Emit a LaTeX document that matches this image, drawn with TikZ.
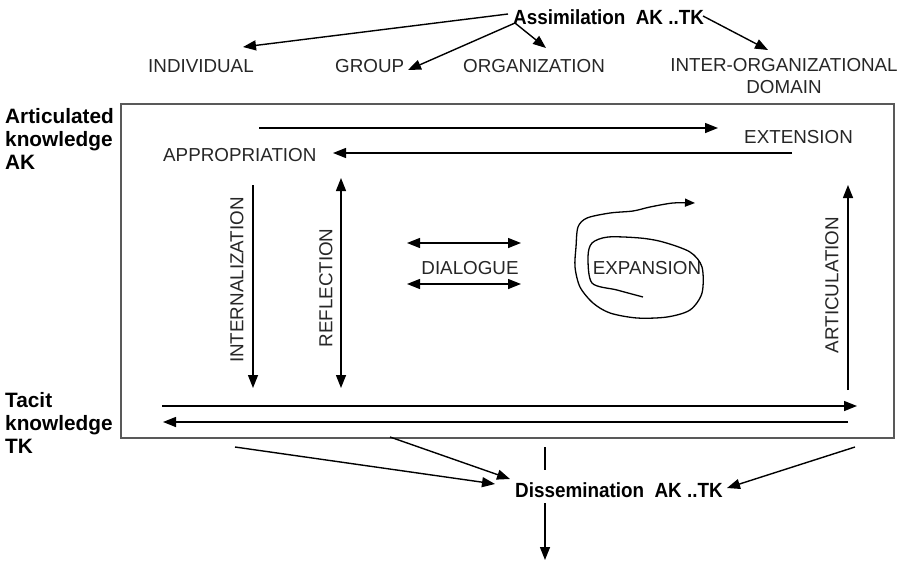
\documentclass[tikz,border=0pt]{standalone}
\usepackage{fontspec}
\setmainfont{Liberation Sans}
\newfontfamily\narrowfont[FakeStretch=0.92]{Liberation Sans}
\usetikzlibrary{arrows.meta}
\begin{document}
\begin{tikzpicture}[x=1pt,y=-1pt,
  lbl/.style={font=\fontsize{18.8}{22}\selectfont, inner sep=0pt, anchor=west, text=black!85},
  bl/.style={font=\fontsize{20.8}{23}\selectfont\bfseries, inner sep=0pt, align=left, anchor=north west},
  nb/.style={font=\fontsize{20.5}{22}\narrowfont\bfseries, inner sep=0pt, anchor=west},
  tip/.style={-{Triangle[length=13pt,width=10pt]}},
  arr/.style={line width=1.4pt, tip},
  darr/.style={line width=1.4pt, {Triangle[length=13pt,width=10pt]}-{Triangle[length=13pt,width=10pt]}},
  ln/.style={line width=1.4pt}]
\useasboundingbox (0,0) rectangle (904,563);

% top
\node[nb] (assim) at (513,17) {Assimilation\ \ AK ..TK};
\node[lbl] (indiv) at (148,66) {INDIVIDUAL};
\node[lbl] (group) at (335,66) {GROUP};
\node[lbl] (org) at (463,66) {ORGANIZATION};
\node[lbl, anchor=north, align=center] (inter) at (784,58) {INTER-ORGANIZATIONAL\\DOMAIN};

\coordinate (s1) at (508,14);
\coordinate (s2) at (515,23);
\coordinate (s3) at (703,16);
\coordinate (t1) at (243,47);
\coordinate (t2) at (408,70);
\coordinate (t3) at (546,48);
\coordinate (t4) at (768,50);
\draw[arr] (s1) -- (t1);
\draw[arr] (s2) -- (t2);
\draw[arr] (s2) -- (t3);
\draw[arr] (s3) -- (t4);

% box
\draw[line width=1.2pt, draw=black!65] (121,104) rectangle (894,438);
\node[bl] (ak) at (5,108) {Articulated\\knowledge\\AK};
\node[bl] (tk) at (5,392) {Tacit\\knowledge\\TK};

\node[lbl] (appr) at (163,155) {APPROPRIATION};
\node[lbl] (ext) at (744,137) {EXTENSION};
\coordinate (e1) at (259,128); \coordinate (e2) at (718,128);
\coordinate (a1) at (792,153); \coordinate (a2) at (333,153);
\draw[arr] (e1) -- (e2);
\draw[arr] (a1) -- (a2);

\node[lbl, anchor=center, rotate=90] (intl) at (237,280) {INTERNALIZATION};
\coordinate (i1) at (253,185); \coordinate (i2) at (253,388);
\draw[arr] (i1) -- (i2);
\node[lbl, anchor=center, rotate=90] (refl) at (326,288) {REFLECTION};
\coordinate (r1) at (341,178); \coordinate (r2) at (341,388);
\draw[darr] (r1) -- (r2);

\node[lbl, anchor=center] (dial) at (470,268) {DIALOGUE};
\coordinate (d1) at (407,243); \coordinate (d2) at (521,243);
\coordinate (d3) at (407,284); \coordinate (d4) at (521,284);
\draw[darr] (d1) -- (d2);
\draw[darr] (d3) -- (d4);

\node[lbl, anchor=center] (expn) at (647,268) {EXPANSION};
\draw[line width=1.3pt, -{Triangle[length=10pt,width=8pt]}] plot[smooth, tension=0.5] coordinates {
(643,297) (617,290) (592,283) (588,257) (592,243) (608,237) (640,238) (663,242) (690,252) (702,267) (702,293) (690,310) (667,317) (637,318) (610,313) (593,303) (580,287) (575,267) (576,247) (578,227) (587,218) (610,213) (633,211) (650,207) (673,203) (695,203)};

\node[lbl, anchor=center, rotate=90] (artl) at (832,285) {ARTICULATION};
\coordinate (ar1) at (848,390); \coordinate (ar2) at (848,185);
\draw[arr] (ar1) -- (ar2);

\coordinate (b1) at (162,406); \coordinate (b2) at (857,406);
\coordinate (b3) at (848,422); \coordinate (b4) at (163,422);
\draw[arr] (b1) -- (b2);
\draw[arr] (b3) -- (b4);

% bottom
\node[nb] (diss) at (515,490) {Dissemination\ \ AK ..TK};
\coordinate (u1) at (235,447); \coordinate (u2) at (495,484);
\coordinate (u3) at (390,437); \coordinate (u4) at (510,479);
\coordinate (u5) at (545,447); \coordinate (u6) at (545,470);
\coordinate (u7) at (855,447); \coordinate (u8) at (727,488);
\coordinate (u9) at (545,503); \coordinate (u10) at (545,560);
\draw[arr] (u1) -- (u2);
\draw[arr] (u3) -- (u4);
\draw[ln] (u5) -- (u6);
\draw[arr] (u7) -- (u8);
\draw[arr] (u9) -- (u10);
\end{tikzpicture}
\end{document}
